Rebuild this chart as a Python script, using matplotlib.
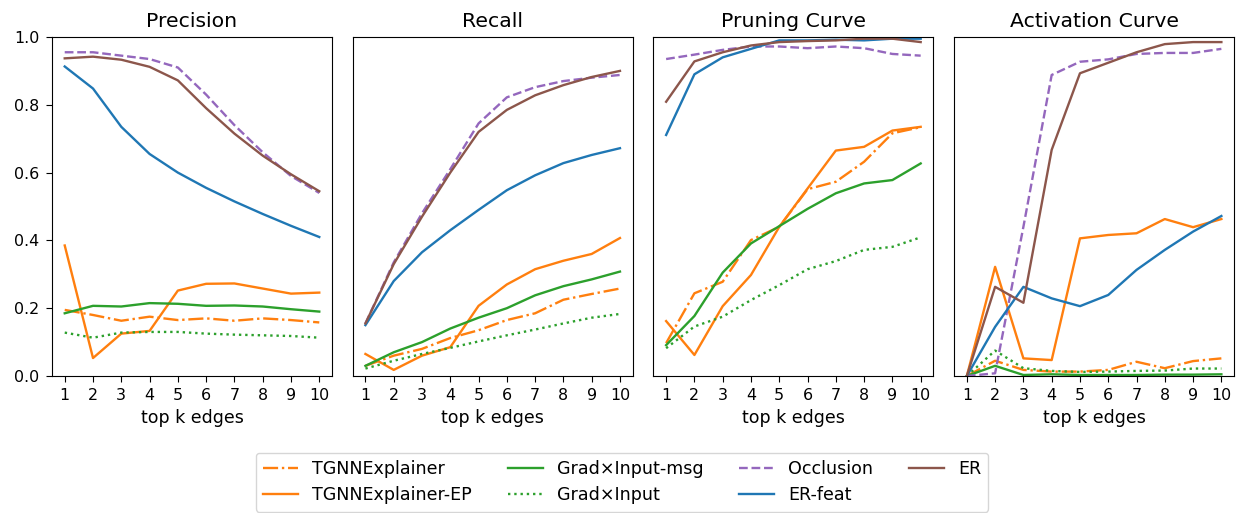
import matplotlib
matplotlib.use("Agg")
import matplotlib.pyplot as plt

# Eje x compartido
k = [1, 2, 3, 4, 5, 6, 7, 8, 9, 10]

titles = ["Precision", "Recall", "Pruning Curve", "Activation Curve"]
methods = ["TGNNExplainer", "TGNNExplainer-EP", "Grad×Input-msg", "Grad×Input",
           "Occlusion", "ER-feat", "ER"]

# Precision
prec_tgnn = [0.195, 0.180, 0.163, 0.175, 0.165, 0.170, 0.163, 0.170, 0.165, 0.158]
prec_tgnn_ep = [0.385, 0.053, 0.125, 0.133, 0.252, 0.272, 0.273, 0.258, 0.243, 0.246]
prec_gi_msg = [0.185, 0.207, 0.205, 0.215, 0.213, 0.207, 0.208, 0.205, 0.197, 0.190]
prec_gi = [0.128, 0.113, 0.128, 0.130, 0.130, 0.125, 0.122, 0.120, 0.118, 0.113]
prec_occ = [0.955, 0.955, 0.945, 0.935, 0.910, 0.830, 0.740, 0.660, 0.590, 0.540]
prec_er_feat = [0.913, 0.848, 0.735, 0.655, 0.600, 0.555, 0.515, 0.478, 0.443, 0.410]
prec_er = [0.937, 0.942, 0.933, 0.912, 0.872, 0.790, 0.715, 0.650, 0.595, 0.545]

# Recall
rec_tgnn = [0.030, 0.060, 0.080, 0.112, 0.135, 0.165, 0.185, 0.225, 0.242, 0.258]
rec_tgnn_ep = [0.065, 0.018, 0.060, 0.085, 0.207, 0.270, 0.315, 0.340, 0.360, 0.407]
rec_gi_msg = [0.030, 0.070, 0.100, 0.140, 0.172, 0.200, 0.238, 0.265, 0.285, 0.308]
rec_gi = [0.022, 0.045, 0.065, 0.083, 0.102, 0.120, 0.137, 0.155, 0.172, 0.183]
rec_occ = [0.155, 0.335, 0.480, 0.610, 0.745, 0.822, 0.852, 0.870, 0.880, 0.888]
rec_er_feat = [0.150, 0.280, 0.365, 0.430, 0.490, 0.548, 0.592, 0.628, 0.652, 0.672]
rec_er = [0.155, 0.330, 0.470, 0.600, 0.720, 0.785, 0.828, 0.858, 0.882, 0.900]

# Pruning Curve
prun_tgnn = [0.097, 0.244, 0.278, 0.401, 0.440, 0.551, 0.573, 0.632, 0.716, 0.734]
prun_tgnn_ep = [0.162, 0.062, 0.206, 0.298, 0.440, 0.553, 0.665, 0.676, 0.724, 0.735]
prun_gi_msg = [0.091, 0.177, 0.305, 0.391, 0.442, 0.493, 0.539, 0.568, 0.578, 0.627]
prun_gi = [0.082, 0.146, 0.175, 0.224, 0.268, 0.315, 0.339, 0.372, 0.381, 0.409]
prun_occ = [0.935, 0.948, 0.962, 0.972, 0.972, 0.967, 0.972, 0.967, 0.950, 0.945]
prun_er_feat = [0.711, 0.890, 0.940, 0.965, 0.990, 0.990, 0.992, 0.990, 0.995, 0.995]
prun_er = [0.809, 0.928, 0.955, 0.975, 0.985, 0.988, 0.990, 0.995, 0.995, 0.985]

# Activation Curve
act_tgnn = [0.0, 0.045, 0.018, 0.013, 0.013, 0.018, 0.042, 0.023, 0.044, 0.052]
act_tgnn_ep = [0.0, 0.322, 0.052, 0.047, 0.406, 0.416, 0.421, 0.463, 0.439, 0.463]
act_gi_msg = [0.0, 0.030, 0.003, 0.005, 0.003, 0.003, 0.003, 0.004, 0.004, 0.005]
act_gi = [0.0, 0.075, 0.023, 0.015, 0.012, 0.013, 0.015, 0.016, 0.022, 0.022]
act_occ = [0.0, 0.008, 0.440, 0.888, 0.927, 0.934, 0.950, 0.953, 0.953, 0.965]
act_er_feat = [0.0, 0.145, 0.263, 0.229, 0.206, 0.239, 0.313, 0.372, 0.426, 0.472]
act_er = [0.0, 0.263, 0.216, 0.667, 0.893, 0.924, 0.955, 0.979, 0.985, 0.985]

panels = [
    [prec_tgnn, prec_tgnn_ep, prec_gi_msg, prec_gi, prec_occ, prec_er_feat, prec_er],
    [rec_tgnn, rec_tgnn_ep, rec_gi_msg, rec_gi, rec_occ, rec_er_feat, rec_er],
    [prun_tgnn, prun_tgnn_ep, prun_gi_msg, prun_gi, prun_occ, prun_er_feat, prun_er],
    [act_tgnn, act_tgnn_ep, act_gi_msg, act_gi, act_occ, act_er_feat, act_er],
]

styles = [("tab:orange", "-."), ("tab:orange", "-"), ("tab:green", "-"), ("tab:green", ":"),
          ("tab:purple", "--"), ("tab:blue", "-"), ("tab:brown", "-")]

fig = plt.figure(figsize=(12.44, 5.13), dpi=100)
W, H = 1244, 513
ax_w, ax_h = 280 / W, 339 / H
bottom = (H - 376) / H

axes = []
for i, (title, series) in enumerate(zip(titles, panels)):
    left = (52 + i * 300.7) / W
    ax = fig.add_axes([left, bottom, ax_w, ax_h])
    for vals, name, (c, ls) in zip(series, methods, styles):
        ax.plot(k, vals, color=c, linestyle=ls, lw=1.7, label=name)
    ax.set_title(title, fontsize=14.7, pad=7)
    ax.set_xlabel("top k edges", fontsize=12.5, labelpad=4)
    ax.set_xticks(k)
    ax.set_ylim(0, 1)
    ax.tick_params(labelsize=11.4, length=4.5, pad=4.5)
    if i == 0:
        ax.set_yticks([0.0, 0.2, 0.4, 0.6, 0.8, 1.0])
    else:
        ax.set_yticks([])
    axes.append(ax)

handles, labels = axes[0].get_legend_handles_labels()
fig.legend(handles, labels, loc="upper center", bbox_to_anchor=(0.5, (H - 444) / H),
           ncol=4, fontsize=12.6, frameon=True, columnspacing=2.05)

plt.savefig("out.png", dpi=100)
